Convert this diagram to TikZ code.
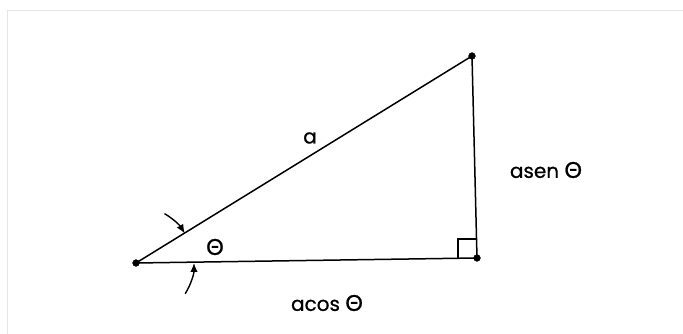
\documentclass[tikz,border=0pt]{standalone}
\usepackage{fontspec}
\setmainfont{Poppins}[FakeBold=0.8]
\newfontfamily\grk{Lato}[FakeBold=0.8,Scale=1.1]
\usetikzlibrary{arrows.meta,calc}
\newcommand{\tht}{{\grk Θ}}
\tikzset{
  side/.style={line width=1.5pt},
  lbl/.style={font=\fontsize{20}{22}\selectfont, inner sep=0pt},
  angarrow/.style={line width=1.4pt, -{Latex[length=9pt,width=7.5pt]}}
}
\begin{document}
\begin{tikzpicture}[x=1pt,y=1pt]
	\useasboundingbox (0,0) rectangle (683,334);
	\draw[gray!20, line width=1pt] (7,0) -- (7,323) -- (683,323);
	
	\coordinate (A) at (136,71);
	\coordinate (B) at (477,76);
	\coordinate (C) at (472,278);
	
	\draw[side] (A) -- (B) -- (C) -- cycle;
	\draw[side] ($(B)+(-19,0)$) -- ++(0,19) -- ++(18,0);
	
	\filldraw (A) circle (3.4pt);
	\filldraw (B) circle (3.4pt);
	\filldraw (C) circle (3.4pt);
	
	% angle arrows
	\draw[angarrow] ([shift={(60:57)}]A) arc[start angle=60, end angle=31.2, radius=57];
	\draw[angarrow] ([shift={(-32:58)}]A) arc[start angle=-32, end angle=0, radius=58];
	
	\node[lbl] (hyp) at (310,196) {a};
	\node[lbl] (ang) at (215,87) {\tht};
	\node[lbl] (opp) at (546,164) {asen \tht};
	\node[lbl] (adj) at (327,31) {acos \tht};
\end{tikzpicture}
\end{document}
